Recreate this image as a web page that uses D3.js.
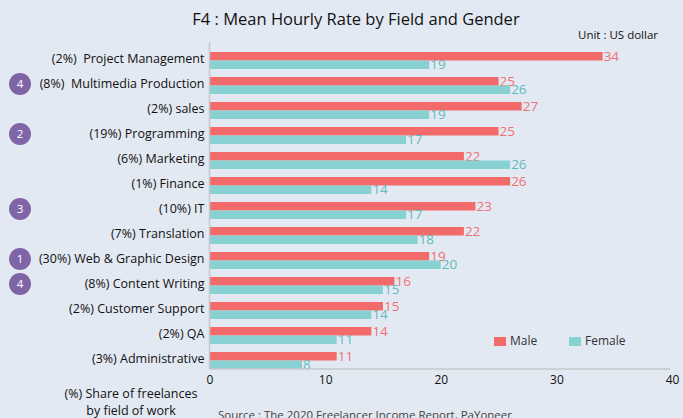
<!DOCTYPE html>
<html>
<head>
<meta charset="utf-8">
<script src="https://cdn.jsdelivr.net/npm/d3@7"></script>
<style>
  html, body { margin: 0; padding: 0; background: #e3e9f2; }
  svg { display: block; font-family: "Open Sans", "Noto Sans", sans-serif; }
</style>
</head>
<body>
<svg id="chart" width="683" height="418"></svg>
<script>
// Fields of work, with share of freelancers
const categories = [
  "(2%)  Project Management",
  "(8%)  Multimedia Production",
  "(2%) sales",
  "(19%) Programming",
  "(6%) Marketing",
  "(1%) Finance",
  "(10%) IT",
  "(7%) Translation",
  "(30%) Web & Graphic Design",
  "(8%) Content Writing",
  "(2%) Customer Support",
  "(2%) QA",
  "(3%) Administrative"
];
// Mean hourly rate (US dollar)
const maleValues   = [34, 25, 27, 25, 22, 26, 23, 22, 19, 16, 15, 14, 11];
const femaleValues = [19, 26, 19, 17, 26, 14, 17, 18, 20, 15, 14, 11, 8];
// Popularity rank badges (null = none)
const ranks = [null, 4, null, 2, null, null, 3, null, 1, 4, null, null, null];
const xTicks = [0, 10, 20, 30, 40];
const seriesNames = ["Male", "Female"];

const colors = { Male: "#f26a6a", Female: "#88d1d2" };
const labelColors = { Male: "#f07070", Female: "#5cbcbd" };

const svg = d3.select("#chart");
const plotLeft = 209.5, plotRight = 672, plotTop = 44, plotBottom = 369;

const x = d3.scaleLinear().domain([0, 40]).range([plotLeft, plotRight]);
const y = d3.scaleBand().domain(categories).range([plotTop, plotBottom])
  .paddingInner(0.32).paddingOuter(0.16).align(1);
const ySub = d3.scaleBand().domain(seriesNames).range([0, y.bandwidth()]);

// Title and unit
svg.append("text").attr("x", 356).attr("y", 25).attr("text-anchor", "middle")
  .attr("font-size", 16.5).attr("fill", "#111")
  .text("F4 : Mean Hourly Rate by Field and Gender");
svg.append("text").attr("x", 658).attr("y", 39).attr("text-anchor", "end")
  .attr("font-size", 11.5).attr("fill", "#111").text("Unit : US dollar");

// Bars
const rows = categories.map((c, i) => ({ c, Male: maleValues[i], Female: femaleValues[i] }));
const g = svg.append("g");
seriesNames.forEach(s => {
  g.selectAll(null).data(rows).enter().append("rect")
    .attr("x", x(0))
    .attr("y", d => y(d.c) + ySub(s))
    .attr("width", d => x(d[s]) - x(0))
    .attr("height", ySub.bandwidth())
    .attr("fill", colors[s]);
  g.selectAll(null).data(rows).enter().append("text")
    .attr("x", d => x(d[s]) + 1)
    .attr("y", d => y(d.c) + ySub(s) + ySub.bandwidth() / 2 + 1)
    .attr("dominant-baseline", "middle")
    .attr("font-size", 13.5)
    .attr("fill", labelColors[s])
    .text(d => d[s]);
});

// Category axis
const yAxis = d3.axisLeft(y).tickSize(0).tickPadding(5);
const ya = svg.append("g").attr("transform", `translate(${plotLeft},0)`).call(yAxis);
ya.select(".domain").remove();
ya.selectAll("text").attr("font-size", 12.5).attr("fill", "#111")
  .attr("dy", "0.2em")
  .style("white-space", "pre")
  .attr("font-family", "\"Open Sans\", \"Noto Sans\", sans-serif");
svg.append("line").attr("x1", plotLeft).attr("x2", plotLeft).attr("y1", 42).attr("y2", plotBottom)
  .attr("stroke", "#c4c8cc").attr("stroke-width", 1.5);

// Value axis
const xAxis = d3.axisBottom(x).tickValues(xTicks).tickSize(0).tickPadding(6);
const xa = svg.append("g").attr("transform", `translate(0,${plotBottom})`).call(xAxis);
xa.select(".domain").remove();
xa.selectAll("text").attr("font-size", 12).attr("fill", "#111")
  .attr("font-family", "\"Open Sans\", \"Noto Sans\", sans-serif");
svg.append("line").attr("x1", plotLeft).attr("x2", 670).attr("y1", plotBottom).attr("y2", plotBottom)
  .attr("stroke", "#c4c8cc").attr("stroke-width", 1.5);

// Rank badges
const badges = svg.append("g");
ranks.forEach((r, i) => {
  if (r == null) return;
  const cy = y(categories[i]) + y.bandwidth() / 2 - 1.5;
  badges.append("circle").attr("cx", 20).attr("cy", cy).attr("r", 11).attr("fill", "#8064a8");
  badges.append("text").attr("x", 20).attr("y", cy + 0.5)
    .attr("text-anchor", "middle").attr("dominant-baseline", "middle")
    .attr("font-size", 11.5).attr("fill", "#fff").text(r);
});

// Legend
const legend = svg.append("g");
[[494, "Male"], [569, "Female"]].forEach(([lx, s]) => {
  legend.append("rect").attr("x", lx).attr("y", 337).attr("width", 12).attr("height", 9)
    .attr("fill", colors[s]);
  legend.append("text").attr("x", lx + 16).attr("y", 342).attr("dominant-baseline", "middle")
    .attr("font-size", 12).attr("fill", "#333").text(s);
});

// Footnotes
svg.append("text").attr("x", 131).attr("y", 398).attr("text-anchor", "middle")
  .attr("font-size", 12.5).attr("fill", "#111").text("(%) Share of freelances");
svg.append("text").attr("x", 131).attr("y", 415).attr("text-anchor", "middle")
  .attr("font-size", 12.5).attr("fill", "#111").text("by field of work");
svg.append("text").attr("x", 218).attr("y", 419)
  .attr("font-size", 11.5).attr("fill", "#444")
  .text("Source : The 2020 Freelancer Income Report, PaYoneer");
</script>
</body>
</html>
